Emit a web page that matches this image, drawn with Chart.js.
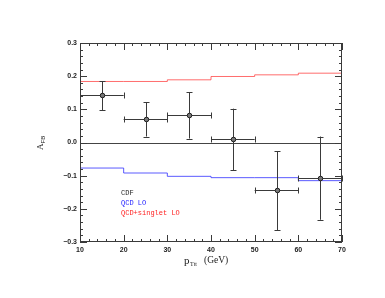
<!DOCTYPE html>
<html>
<head>
<meta charset="utf-8">
<script src="https://cdn.jsdelivr.net/npm/chart.js@4/dist/chart.umd.min.js"></script>
<style>
html,body{margin:0;padding:0;background:#fff;}
#c{display:block;}
</style>
</head>
<body>
<canvas id="c" width="385" height="298"></canvas>
<script>
// ---- data ----
const binEdges = [10, 20, 30, 40, 50, 60, 70];
const qcdLO = [-0.077, -0.092, -0.102, -0.106, -0.106, -0.115];
const qcdSinglet = [0.184, 0.184, 0.189, 0.199, 0.204, 0.209];
const cdfX = [15, 25, 35, 45, 55, 65];
const cdfXerr = [5, 5, 5, 5, 5, 5];
const cdfY = [0.142, 0.071, 0.084, 0.011, -0.144, -0.107];
const cdfYhigh = [0.184, 0.121, 0.152, 0.102, -0.027, 0.018];
const cdfYlow = [0.097, 0.018, 0.012, -0.083, -0.264, -0.233];
const xTickValues = [10, 20, 30, 40, 50, 60, 70];
const yTickValues = [-0.3, -0.2, -0.1, 0.0, 0.1, 0.2, 0.3];
const legendLabels = ['CDF', 'QCD LO', 'QCD+singlet LO'];

function stepData(edges, vals) {
  return edges.map((e, i) => ({x: e, y: vals[Math.min(i, vals.length - 1)]}));
}

const AXIS = '#3a3a3a';
const ERR = '#3a3a3a';

const framePlugin = {
  id: 'frame',
  beforeDatasetsDraw(chart) {
    const {ctx, chartArea: a, scales: {x, y}} = chart;
    ctx.save();
    // zero line
    ctx.strokeStyle = '#444';
    ctx.lineWidth = 1;
    const y0 = Math.round(y.getPixelForValue(0)) + 0.5;
    ctx.beginPath(); ctx.moveTo(a.left, y0); ctx.lineTo(a.right, y0); ctx.stroke();
    ctx.restore();
  },
  afterDatasetsDraw(chart) {
    const {ctx, chartArea: a, scales: {x, y}} = chart;
    ctx.save();
    // error bars
    ctx.strokeStyle = ERR;
    ctx.lineWidth = 1;
    for (let i = 0; i < cdfX.length; i++) {
      const px = x.getPixelForValue(cdfX[i]);
      const py = y.getPixelForValue(cdfY[i]);
      const xl = x.getPixelForValue(cdfX[i] - cdfXerr[i]);
      const xr = x.getPixelForValue(cdfX[i] + cdfXerr[i]);
      const yt = y.getPixelForValue(cdfYhigh[i]);
      const yb = y.getPixelForValue(cdfYlow[i]);
      const cx = Math.round(px) + 0.5, cy = Math.round(py) + 0.5;
      ctx.beginPath();
      ctx.moveTo(xl, cy); ctx.lineTo(xr, cy);
      ctx.moveTo(Math.round(xl) + 0.5, cy - 3); ctx.lineTo(Math.round(xl) + 0.5, cy + 3);
      ctx.moveTo(Math.round(xr) + 0.5, cy - 3); ctx.lineTo(Math.round(xr) + 0.5, cy + 3);
      ctx.moveTo(cx, yt); ctx.lineTo(cx, yb);
      ctx.moveTo(cx - 3, Math.round(yt) + 0.5); ctx.lineTo(cx + 3, Math.round(yt) + 0.5);
      ctx.moveTo(cx - 3, Math.round(yb) + 0.5); ctx.lineTo(cx + 3, Math.round(yb) + 0.5);
      ctx.stroke();
      ctx.beginPath();
      ctx.arc(cx, cy, 2.3, 0, Math.PI * 2);
      ctx.fillStyle = '#777';
      ctx.fill();
      ctx.strokeStyle = '#222';
      ctx.stroke();
      ctx.strokeStyle = ERR;
    }
    // frame
    ctx.strokeStyle = AXIS;
    ctx.lineWidth = 1;
    ctx.strokeRect(a.left + 0.5, a.top + 0.5, a.right - a.left - 1, a.bottom - a.top - 1);
    // ticks
    ctx.beginPath();
    for (let v = 10; v <= 70; v += 2) {
      const px = Math.round(x.getPixelForValue(v)) + 0.5;
      const len = (v % 10 === 0) ? 7 : 3;
      ctx.moveTo(px, a.bottom); ctx.lineTo(px, a.bottom - len);
      ctx.moveTo(px, a.top); ctx.lineTo(px, a.top + len);
    }
    for (let i = -15; i <= 15; i++) {
      const py = Math.round(y.getPixelForValue(i * 0.02)) + 0.5;
      const len = (i % 5 === 0) ? 7 : 3;
      ctx.moveTo(a.left, py); ctx.lineTo(a.left + len, py);
      ctx.moveTo(a.right, py); ctx.lineTo(a.right - len, py);
    }
    ctx.stroke();
    ctx.restore();
  },
  afterDraw(chart) {
    const {ctx} = chart;
    ctx.save();
    // legend
    ctx.font = '7px "Liberation Mono", "DejaVu Sans Mono", monospace';
    ctx.textBaseline = 'middle';
    ctx.textAlign = 'left';
    const colors = ['#222', '#2222ff', '#ff2222'];
    legendLabels.forEach((t, i) => {
      ctx.fillStyle = colors[i];
      ctx.fillText(t, 121, 193 + i * 10);
    });
    // x title
    ctx.fillStyle = '#222';
    ctx.textBaseline = 'alphabetic';
    ctx.font = '11px "Liberation Serif", "DejaVu Serif", serif';
    ctx.fillText('p', 184, 264);
    ctx.font = '6px "Liberation Serif", "DejaVu Serif", serif';
    ctx.fillText('Ttt', 190, 266);
    ctx.font = '9.5px "Liberation Serif", "DejaVu Serif", serif';
    ctx.fillText('(GeV)', 204, 263);
    // y title
    ctx.translate(43, 150);
    ctx.rotate(-Math.PI / 2);
    ctx.font = '9px "Liberation Serif", "DejaVu Serif", serif';
    ctx.fillText('A', 0, 0);
    ctx.font = '6px "Liberation Sans", "DejaVu Sans", sans-serif';
    ctx.fillText('FB', 6.5, 2);
    ctx.restore();
  }
};

new Chart(document.getElementById('c'), {
  type: 'scatter',
  data: {
    datasets: [
      {
        type: 'line',
        data: stepData(binEdges, qcdSinglet),
        stepped: true,
        borderColor: 'rgba(255,60,60,0.75)',
        borderWidth: 1,
        pointRadius: 0,
        fill: false
      },
      {
        type: 'line',
        data: stepData(binEdges, qcdLO),
        stepped: true,
        borderColor: 'rgba(50,50,255,0.8)',
        borderWidth: 1,
        pointRadius: 0,
        fill: false
      }
    ]
  },
  plugins: [framePlugin],
  options: {
    responsive: false,
    animation: false,
    events: [],
    layout: {padding: {left: 0, right: 43, top: 43, bottom: 0}},
    plugins: {legend: {display: false}, tooltip: {enabled: false}},
    scales: {
      x: {
        type: 'linear',
        min: 10, max: 70,
        afterBuildTicks: s => { s.ticks = xTickValues.map(v => ({value: v})); },
        afterFit: s => { s.height = 56; },
        grid: {display: false, drawTicks: false},
        border: {display: false},
        ticks: {
          padding: 4,
          color: '#222',
          font: {family: '"Liberation Sans", "DejaVu Sans", sans-serif', size: 7, weight: 'bold'},
          callback: v => String(v),
          maxRotation: 0
        }
      },
      y: {
        type: 'linear',
        min: -0.3, max: 0.3,
        afterBuildTicks: s => { s.ticks = yTickValues.map(v => ({value: v})); },
        afterFit: s => { s.width = 80; },
        grid: {display: false, drawTicks: false},
        border: {display: false},
        ticks: {
          padding: 3,
          color: '#222',
          font: {family: '"Liberation Sans", "DejaVu Sans", sans-serif', size: 7, weight: 'bold'},
          callback: v => (Math.abs(v) < 1e-9 ? '0.0' : v.toFixed(1).replace('-', '\u2212'))
        }
      }
    }
  }
});
</script>
</body>
</html>
